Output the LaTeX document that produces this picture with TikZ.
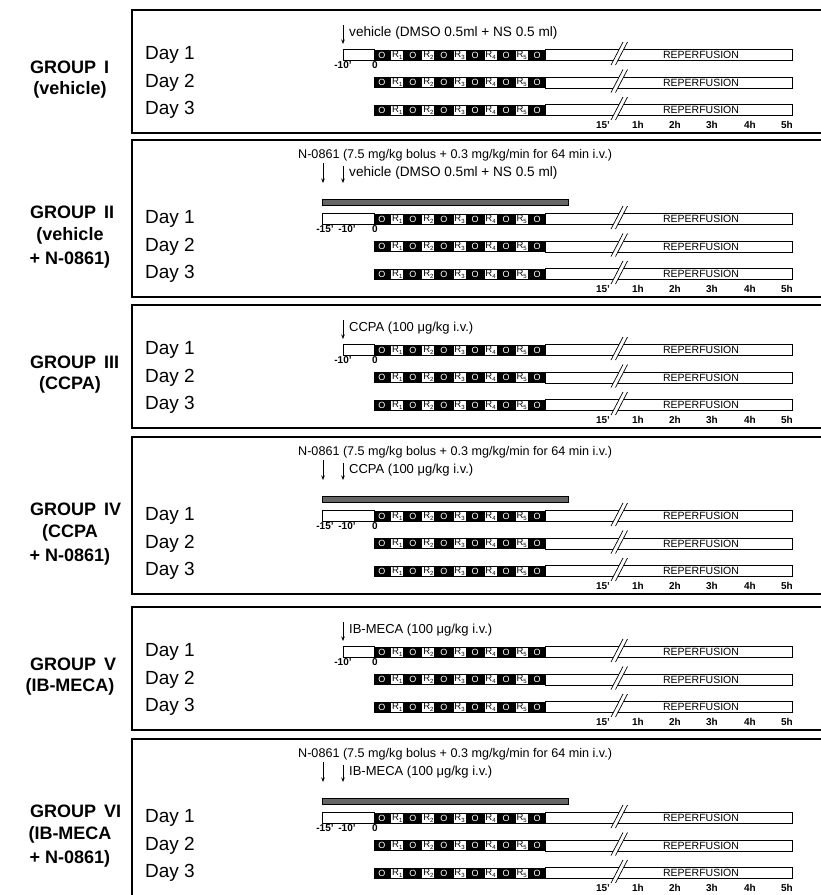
\documentclass[tikz,border=0pt]{standalone}
\usepackage{fontspec}
\setmainfont{Liberation Sans}
\usetikzlibrary{arrows.meta}
\tikzset{
  panelbox/.style={draw=black, line width=1.2pt},
  grplbl/.style={font=\fontsize{18}{20}\selectfont\bfseries, anchor=west, inner sep=0pt},
  grpsub/.style={font=\fontsize{18}{20}\selectfont\bfseries, inner sep=0pt},
  daylbl/.style={font=\fontsize{19}{21}\selectfont, anchor=west, inner sep=0pt},
  notelbl/.style={font=\fontsize{13}{15}\selectfont, anchor=west, inner sep=0pt},
  vehlbl/.style={font=\fontsize{13.6}{15}\selectfont, anchor=west, inner sep=0pt},
  druglbl/.style={font=\fontsize{12.6}{15}\selectfont, anchor=west, inner sep=0pt},
  timelbl/.style={font=\fontsize{10}{11}\selectfont\bfseries, inner sep=0pt},
  reperlbl/.style={font=\fontsize{10.5}{12}\selectfont, inner sep=0pt},
  ocell/.style={font=\fontsize{9}{10}\selectfont, text=white, inner sep=0pt},
  rcell/.style={fill=white, minimum width=12pt, minimum height=9pt, inner sep=0pt, font=\fontsize{9.5}{10}\selectfont},
  injarrow/.style={-{Stealth[length=4.5pt,width=3.5pt]}, line width=0.6pt},
  barline/.style={draw=black, line width=0.8pt},
  infusion/.style={fill=black!60, draw=black, line width=0.4pt},
  slashline/.style={line width=0.7pt},
}
% one experimental time line (cells + reperfusion bar)
\newcommand\cellbar[2]{%
  \fill[black] (374,#1-5.5) rectangle (545,#1+5.5);
  \foreach \k in {1,...,5}{
    \node[rcell] (#2r\k) at ({374+15.545*(2*\k-0.5)},#1) {R\raisebox{-1.6pt}{\fontsize{6}{6}\selectfont\k}};
  }
  \foreach \k in {0,...,5}{
    \node[ocell] (#2o\k) at ({374+15.545*(2*\k+0.5)},#1) {O};
  }
  \draw[barline] (545,#1-5.5) rectangle (792,#1+5.5);
  \node[reperlbl] (#2rep) at (701,#1) {REPERFUSION};
  \fill[white] (611,#1+10) -- (623,#1-13) -- (627.5,#1-13) -- (615.5,#1+10) -- cycle;
  \draw[slashline] (611,#1+10) -- (623,#1-13) (615.5,#1+10) -- (627.5,#1-13);
}
\newcommand\timelabels[2]{%
  \node[timelbl] (#2t0) at (603,#1) {15'};
  \node[timelbl] (#2t1) at (638,#1) {1h};
  \node[timelbl] (#2t2) at (675,#1) {2h};
  \node[timelbl] (#2t3) at (712,#1) {3h};
  \node[timelbl] (#2t4) at (750,#1) {4h};
  \node[timelbl] (#2t5) at (787,#1) {5h};
}
\newcommand\dayrows[3]{% #1 y day1, #2 spacing, #3 id
  \pgfmathsetmacro\rowA{#1}%
  \pgfmathsetmacro\rowB{#1+#2}%
  \pgfmathsetmacro\rowC{#1+2*#2}%
  \pgfmathsetmacro\rowT{#1+2*#2+15}%
  \node[daylbl] (#3d1) at (145,\rowA) {Day 1};
  \node[daylbl] (#3d2) at (145,\rowB) {Day 2};
  \node[daylbl] (#3d3) at (145,\rowC) {Day 3};
  \cellbar{\rowA}{#3a}
  \cellbar{\rowB}{#3b}
  \cellbar{\rowC}{#3c}
  \timelabels{\rowT}{#3}
}
% panel with a single injection
\newcommand\panelA[6]{% #1 top, #2 id, #3 numeral, #4 sublabel, #5 note, #6 note style
  \pgfmathsetmacro\pT{#1}%
  \draw[panelbox] (132,\pT) rectangle (840,\pT+123);
  \node[grplbl] (#2g) at (30,\pT+57) {GROUP\hspace{8pt}#3};
  \node[grpsub] (#2s) at (70,\pT+80) {#4};
  \coordinate (#2at) at (343,\pT+15);
  \coordinate (#2ab) at (343,\pT+34);
  \draw[injarrow] (#2at) -- (#2ab);
  \node[#6] (#2n) at (349,\pT+23) {#5};
  \draw[barline] (343,\pT+39.5) rectangle (374,\pT+50.5);
  \node[timelbl] (#2m10) at (343,\pT+55) {-10'};
  \node[timelbl] (#2z) at (375,\pT+55) {0};
  \dayrows{\pT+45}{27.5}{#2}
}
% panel with N-0861 infusion + injection
\newcommand\panelB[6]{% #1 top, #2 id, #3 numeral, #4 sublabel line, #5 note, #6 note style
  \pgfmathsetmacro\pT{#1}%
  \draw[panelbox] (132,\pT) rectangle (840,\pT+157);
  \node[grplbl] (#2g) at (30,\pT+72) {GROUP\hspace{8pt}#3};
  \node[grpsub] (#2s) at (70,\pT+96) {#4};
  \node[grpsub] (#2s2) at (70,\pT+120) {+ N-0861)};
  \node[druglbl] (#2nn) at (298,\pT+15) {N-0861 (7.5 mg/kg bolus + 0.3 mg/kg/min for 64 min i.v.)};
  \coordinate (#2bt) at (323,\pT+23);
  \coordinate (#2bb) at (323,\pT+43);
  \draw[injarrow] (#2bt) -- (#2bb);
  \coordinate (#2at) at (343,\pT+26);
  \coordinate (#2ab) at (343,\pT+43);
  \draw[injarrow] (#2at) -- (#2ab);
  \node[#6] (#2n) at (349,\pT+33) {#5};
  \draw[infusion] (322,\pT+59) rectangle (568,\pT+65);
  \draw[barline] (322,\pT+73.5) rectangle (374,\pT+84.5);
  \node[timelbl] (#2m15) at (325,\pT+89) {-15'};
  \node[timelbl] (#2m10) at (347,\pT+89) {-10'};
  \node[timelbl] (#2z) at (375,\pT+89) {0};
  \dayrows{\pT+79}{27.5}{#2}
}
\begin{document}
\begin{tikzpicture}[x=1pt,y=-1pt]
\useasboundingbox (0,0) rectangle (821,895);
\fill[white] (0,0) rectangle (821,895);
\clip (0,0) rectangle (821,895);
\panelA{10}{gI}{I}{(vehicle)}{vehicle (DMSO 0.5ml + NS 0.5 ml)}{vehlbl}
\panelB{140}{gII}{II}{(vehicle}{vehicle (DMSO 0.5ml + NS 0.5 ml)}{vehlbl}
\panelA{305}{gIII}{III}{(CCPA)}{CCPA (100 μg/kg i.v.)}{notelbl}
\panelB{437}{gIV}{IV}{(CCPA}{CCPA (100 μg/kg i.v.)}{notelbl}
\panelA{607}{gV}{V}{(IB-MECA)}{IB-MECA (100 μg/kg i.v.)}{notelbl}
\panelB{739}{gVI}{VI}{(IB-MECA}{IB-MECA (100 μg/kg i.v.)}{notelbl}
\end{tikzpicture}
\end{document}
